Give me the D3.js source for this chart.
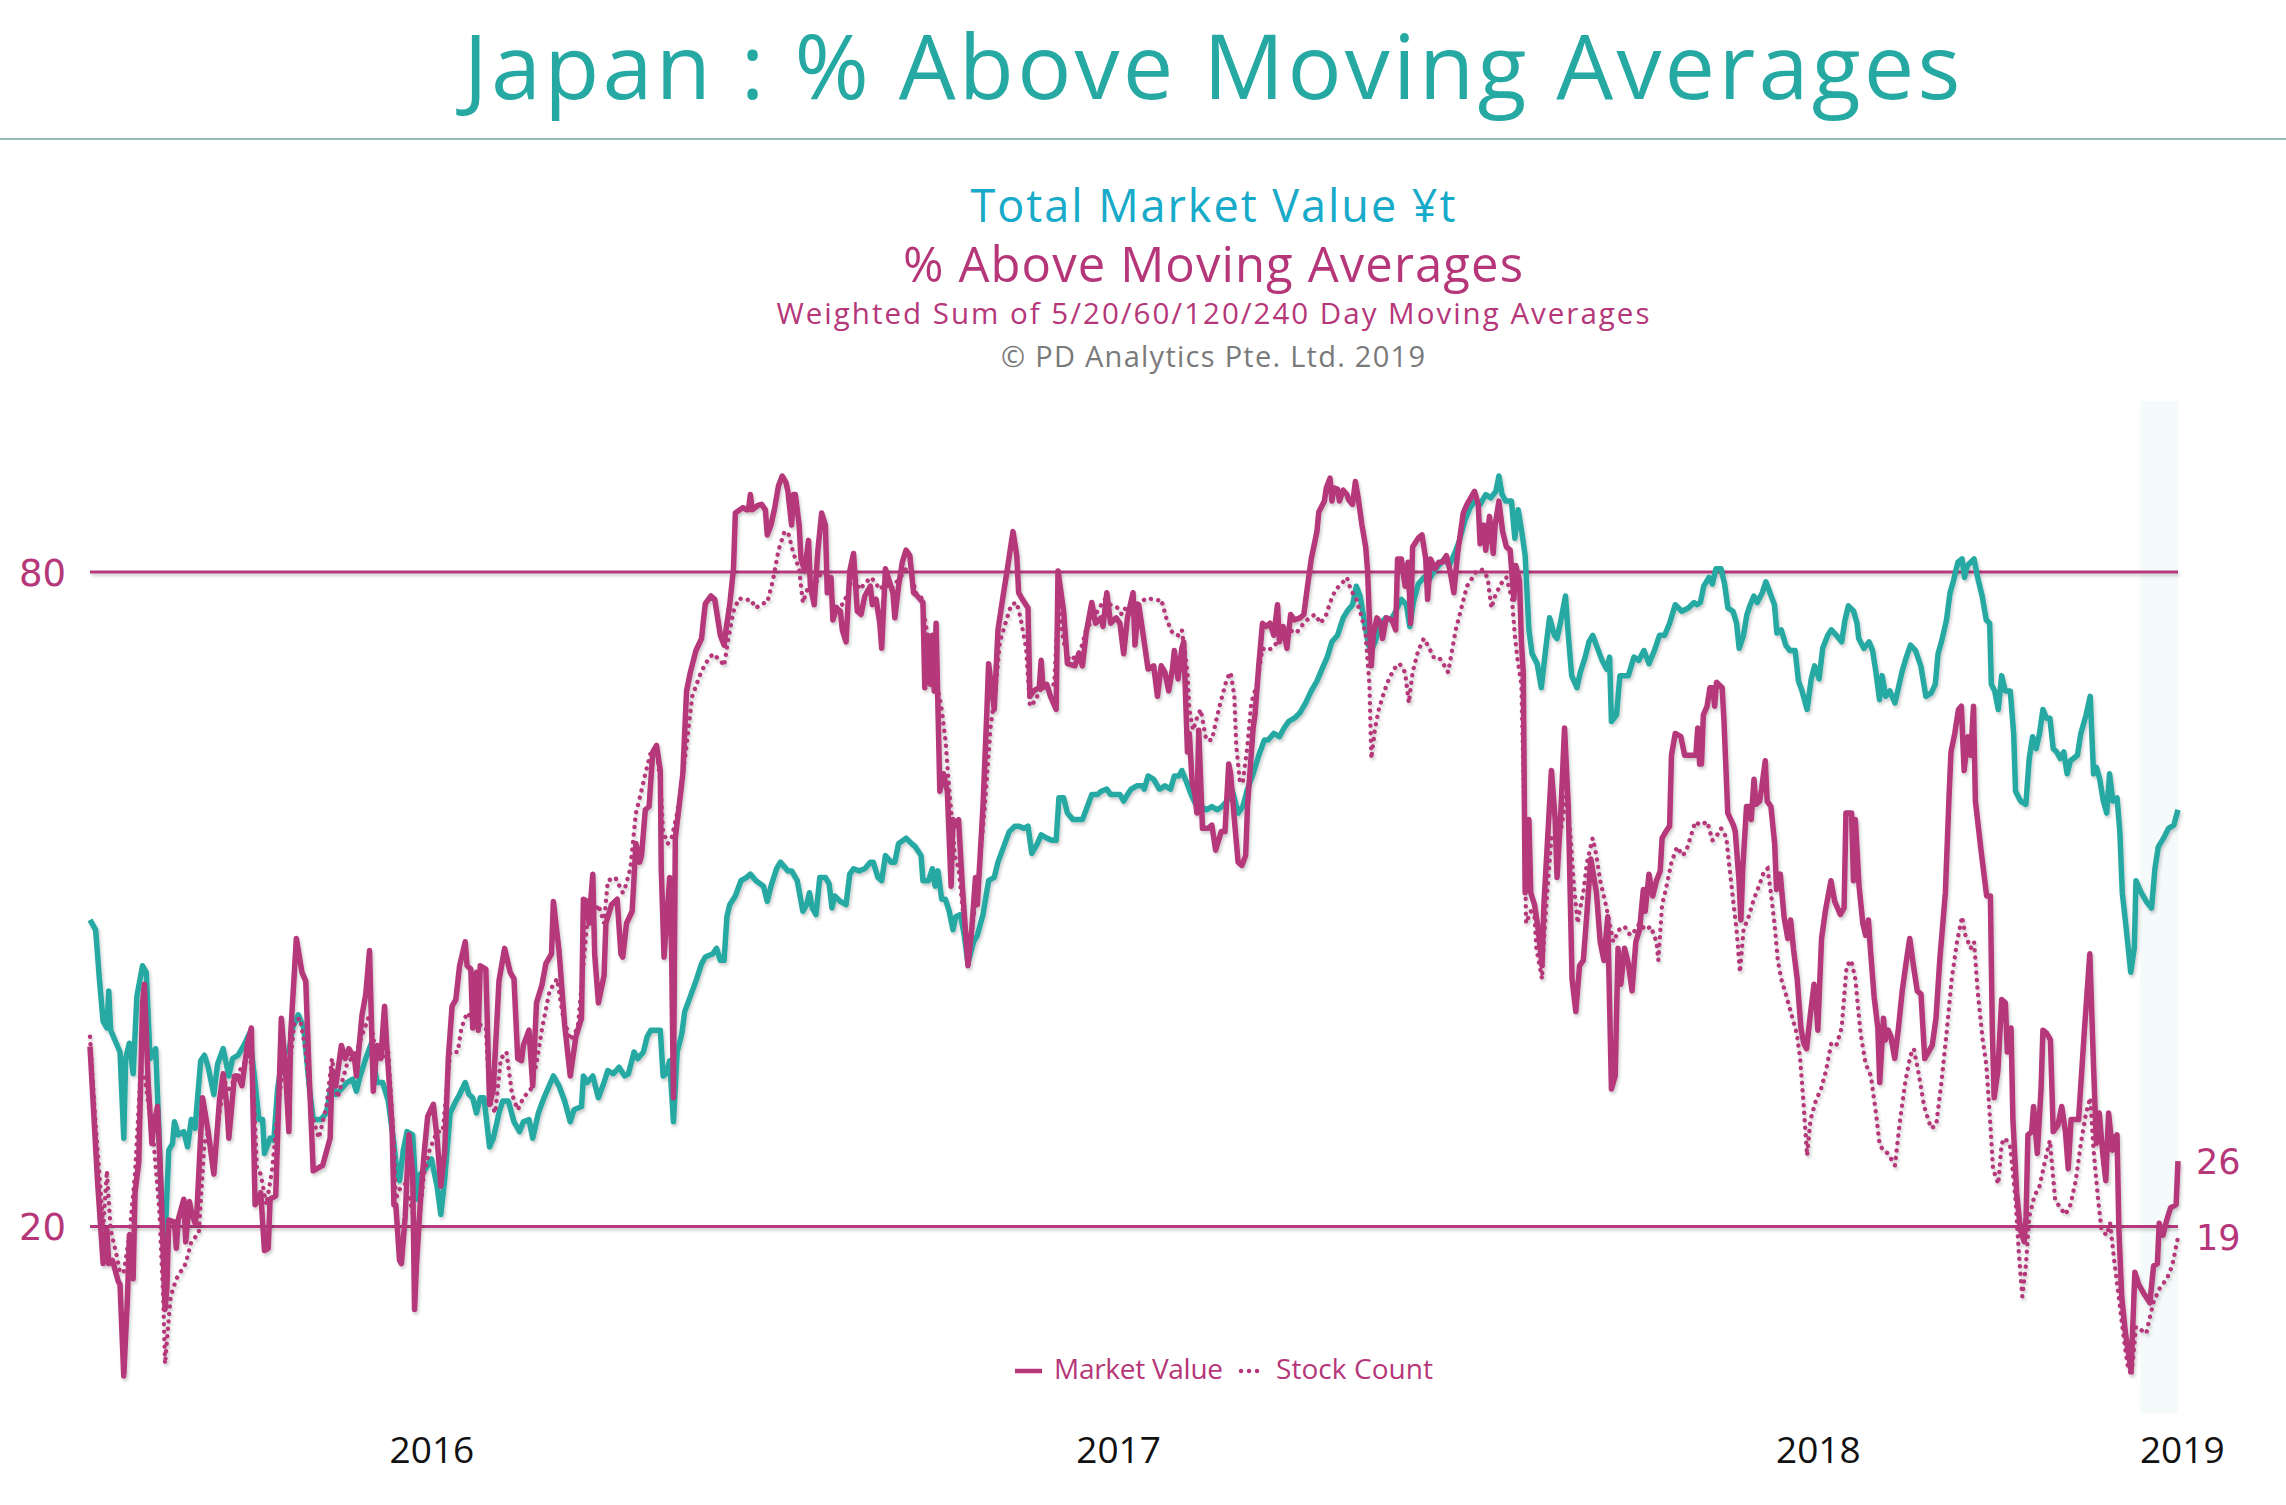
<!DOCTYPE html>
<html><head><meta charset="utf-8">
<script src="https://cdn.jsdelivr.net/npm/d3@7"></script>
<style>html,body{margin:0;padding:0;background:#fff;} svg{display:block;font-family:'Open Sans',sans-serif;}</style>
</head><body><svg id="chart" width="2286" height="1505"></svg>
<script>
// ---------- DATA (day offset from 2016-01-04, value) ----------
const startDate = "2016-01-04";
const endDay = 1113;
const shadeFrom = "2019-01-01";

const marketValue = [
[0,36.5],[4,24.2],[7,16.6],[9,19.7],[10,16.6],[12,16.9],[15,15],[16,14.7],[18,6.3],[20,13.6],[21,19.2],[23,15.2],[24,23.1],[26,25.9],[28,40.5],[29,42.2],[31,33.2],[33,27.6],[34,29.3],[36,31],[38,23.1],[40,12.4],[41,14.4],[42,20.6],[45,20.4],[46,18],[47,20.6],[50,22.5],[51,18.6],[53,22.3],[54,21.4],[56,20.3],[57,21.4],[60,31.8],[63,28.7],[66,24.8],[69,31.5],[71,34],[73,31],[74,28.1],[77,33.8],[79,33.8],[81,32.9],[84,36.8],[86,38.2],[88,22],[90,22.5],[91,23.1],[93,17.8],[95,18],[96,22.5],[99,22.8],[102,39.1],[104,34.9],[106,28.7],[107,37.7],[110,46.4],[113,43.3],[115,42.5],[117,33.2],[119,25.1],[124,25.6],[128,28.1],[129,34.3],[131,32.9],[134,36.6],[136,35.4],[138,36.3],[141,35.4],[142,33.8],[145,39.4],[147,41.3],[149,45.3],[151,32.4],[153,36.6],[155,35.4],[157,40.2],[158,37.1],[161,29.3],[162,22],[163,22],[165,16.9],[166,16.6],[168,20.9],[170,28.4],[172,24.8],[173,12.4],[174,16.4],[176,22],[178,26.5],[180,30.1],[183,31.2],[185,28.1],[187,23.7],[189,26.7],[191,35.4],[193,40.2],[195,40.8],[197,43.9],[200,46.1],[201,43.9],[203,43.6],[204,38.2],[206,43.3],[207,38],[208,43.9],[211,43.6],[213,31.2],[215,32.6],[218,42.5],[221,45.5],[224,43.3],[226,42.7],[228,35.4],[230,35.2],[231,36.6],[234,38],[236,32.9],[238,40.5],[241,42.2],[243,44.1],[246,45],[247,49.8],[250,45.3],[253,38.5],[256,33.8],[259,37.4],[262,39.1],[263,50],[265,49.8],[266,47.8],[268,52.3],[269,45],[271,40.5],[274,43],[275,47.8],[278,49.5],[281,50],[283,45],
[284,44.7],[286,47.8],[289,48.9],[291,55.1],[293,53.4],[294,54],[296,58.2],[298,58.5],[300,63.5],[302,64.1],[304,61.8],[304.5,52.8],[306,44.7],[307,47.2],[309,52],[310,45.5],[311,31.8],[312,55.6],[314,58.5],[316,61.5],[318,69.1],[320,70.8],[323,72.8],[326,73.9],[327,75.6],[328,77.1],[331,77.8],[333,77.5],[336,74.2],[338,73.3],[339,74.7],[341,77],[343,80.3],[344,85.4],[348,85.9],[350,85.7],[351,85.7],[352,87.1],[353,85.7],[356,86.1],[358,86.2],[360,85.7],[361,83.4],[363,84.3],[365,85.9],[367,87.9],[369,88.8],[371,88.2],[372,87.4],[374,84.3],[375,87.1],[376,87.1],[378,84.3],[379,81.2],[381,80.1],[383,82.9],[384,78.7],[386,77],[388,82],[390,85.4],[392,84.3],[393,78.1],[395,79.5],[396,75.6],[398,76.7],[400,76.4],[401,74.7],[403,73.6],[405,80.1],[407,81.7],[409,76.4],[411,76.1],[413,77.8],[416,78.7],[417,77],[419,77.5],[421,75.3],[422,73],[424,80.3],[426,79.2],[428,78.1],[429,75.8],[431,78.7],[433,80.9],[435,82],[437,81.5],[439,78.1],[441,77.8],[444,77.2],[445,69.4],[446,74.2],[448,69.7],[449,74.2],[450,69.1],[451,75.3],[453,59.9],[455,61.5],[457,59.9],[459,51.2],[460,57.3],[461,56.7],[463,57.3],[465,51.2],[468,43.9],[470,47.2],[472,52],[473,49.5],[476,58.5],[478,66.9],[479,71.6],[482,67.4],[484,74.7],[486,77],[489,80.3],[492,83.7],[494,81.5],[495,78.1],[497,77.5],[500,76.7],[501,68.6],[503,69.1],[506,69.4],[507,71.9],[508,69.4],[510,69.7],[512,68.6],[515,67.4],[516,80.1],[519,76.4],[521,71.6],[525,71.4],[527,72.5],[529,71.4],[531,74.4],[534,77.2],[536,75.3],[539,75.8],[540,75],[542,78.1],[544,75.3],[547,75.8],[549,75.3],[551,72.5],[553,75.8],[556,78.1],[557,73.3],[559,77],[561,74.7],[564,71.1],[567,71.4],[569,68.6],
[571,71.4],[573,70.8],[575,69.1],[577,71.1],[578,72.8],[580,70.2],[582,73],[583,73.6],[585,63.5],[586,65.2],[587.5,60.7],[589,59.6],[590,57.9],[591,65.5],[593,56.5],[596,56.5],[598,56.8],[600,54.5],[603,56.2],[605,56.2],[607,62.4],[608,61.5],[610,57.3],[612,53.4],[614,53.1],[616,54],[617,58.5],[620,65.7],[621,66.9],[623,71.4],[625,75.3],[627,75],[629,75.3],[631,74.2],[633,77],[634,73.6],[636,75],[638,73],[640,76.1],[642,75.6],[645,75.8],[647,76.1],[649,78.7],[651,81.2],[654,83.7],[655,85.5],[658,86.5],[659,87.7],[661,88.6],[662,86.5],[663,87.7],[665,87.6],[666,86.5],[668,87.5],[670,87.1],[671,86.6],[673,86.2],[674.5,88.3],[676,86.8],[678,84.3],[680,82.3],[681,80.1],[683,71.4],[684,74.2],[686,75.8],[688,75.3],[689,73.9],[691,75.8],[694,75.6],[696,74.7],[697,81.2],[699,81.2],[701,78.7],[702.6,80.9],[704,75.3],[705,82.3],[708,83.1],[710,83.4],[712,81.2],[713,77.5],[714.5,81.2],[717,80.3],[719,80.9],[721,80.9],[723,81.5],[725,80.1],[727,78.1],[729,81.7],[732,85.4],[734,86.2],[736,86.8],[738,87.4],[740,86.2],[741,82.6],[743,84.3],[744,82],[746,85.1],[748,81.7],[749,84.3],[751,86.5],[753,83.7],[755,82.3],[757,82],[759,77.5],[760,80.6],[762,79.2],[763,73.6],[764,70.8],[765,50.6],[767,57.3],[768,50.6],[770,49.5],[772,47.2],[774,43.9],[775,49.5],[777,55.6],[779,61.8],[781,57.3],[782,52],[784,57.9],[786,65.7],[788,58.5],[790,42.7],[792,39.7],[794,43.9],[796,44.4],[798,48.9],[800,53.7],[803,50.6],[805,46.1],[807,44.4],[809,48.4],[811,32.6],[813,33.8],[814.5,45.5],[816,42.2],[818,45.5],[820,44.1],[822,41.6],[824,46.1],[826,47.2],[828,50.9],[829,48.9],[831,52.3],[833,50.3],[835,51.7],[837,52.6],[838,55.6],[840,56.2],[842,56.7],[843,63.2],[845,65.2],[848,64.9],[850,63.2],
[853,63.2],[856,63.2],[857,65.7],[858,62.4],[859,62.4],[860,66.9],[862,67.7],[863.5,69.4],[865,69.4],[866,67.7],[867,69.9],[870,69.4],[871,66.3],[873,57.9],[876,56.8],[877,56.2],[879,51.7],[880,48.1],[881,52.8],[883,58.5],[884.5,58.5],[885.5,57.3],[887,61],[888,58.7],[890,59],[891,60.1],[893,62.7],[894,59],[896,58.5],[898,55.1],[899,50.9],[901,52.3],[903,48.4],[905,46.4],[906.5,48.1],[908,45.5],[910,42.7],[912,38.2],[913.5,36.8],[915,36.3],[917,39.4],[919,42.2],[920,40.8],[921,38],[923,46.4],[925,48.9],[928,51.7],[930,49.8],[933,48.6],[935,49.2],[936,57.9],[939,57.9],[940,51.7],[941,57.3],[943,51.2],[945,47.8],[946.5,46.7],[948,48.1],[949,45.5],[951,41.1],[953,38.2],[954,33.2],[956,39.1],[957,37.1],[958.5,38],[960,37.4],[962,35.4],[964,38.2],[966,41.6],[968,44.1],[970,46.4],[972,43.9],[974,41.6],[976,41.3],[978,35.4],[980,36],[982,36.6],[984,39.1],[986,44.4],[989,50.6],[991,59.6],[992,63.5],[994,65.2],[996,67.4],[997.5,67.7],[999,61.8],[1001,64.9],[1002.5,63.2],[1004,67.7],[1005,59],[1008,54.5],[1011,50.3],[1013,50.3],[1014,38.2],[1015,31.8],[1017,34.3],[1019,40.8],[1021,40.5],[1022,36],[1024,38.2],[1025,29.8],[1027,23.1],[1029,19.7],[1031,18.6],[1032,20.9],[1033,28.4],[1035,28.7],[1036,31],[1038,26.7],[1040,32.6],[1041,38],[1043,37.7],[1045,37.1],[1046.5,28.7],[1049,29.3],[1051,31],[1053,28.7],[1054.5,25.3],[1056,29.8],[1058.5,29.8],[1060,29.8],[1063,37.7],[1066,45],[1068,34.6],[1069.5,27.6],[1071,30.4],[1073,26.5],[1074.5,24.2],[1076,30.4],[1078,27],[1079,28.1],[1080.5,28.4],[1081.5,19.7],[1083,13.6],[1085,10.2],[1088,6.8],[1090,15.8],[1092,14.7],[1095,13.8],[1098,13],[1100,16.4],[1102,16.6],[1103,20.3],[1105,19.2],[1107,20.6],[1109,21.7],[1112,22],[1113,26]
];

const stockCount = [
[0,37.4],[3,29.3],[6,22.5],[7,19.7],[9,25.1],[11,19.7],[14,17.5],[16,15.8],[18,15.8],[21,19.2],[24,24.8],[27,34.3],[29,33.9],[34,27.6],[37,21.4],[39,13.6],[40,7.4],[43,13.6],[46,15.2],[51,16.6],[54,18.6],[58,19.4],[61,27.6],[63,28.7],[66,25.3],[69,30.4],[72,33.2],[74,32.6],[78,33.8],[82,34.9],[85,36],[87,33.2],[89,25.3],[91,24.8],[94,22],[97,25.1],[100,30.4],[103,34.9],[107,35.4],[109,38.8],[112,39.1],[115,36],[118,30.4],[122,28.1],[126,31],[129,35.4],[132,31.8],[137,34.9],[142,36],[146,38],[149,39.4],[152,36.3],[155,35.4],[159,36],[162,27.6],[163,22.5],[165,23.4],[168,23.9],[171,22],[174,19.7],[176,21.4],[178,24.8],[181,27],[185,28.7],[188,28.7],[192,36],[196,36],[198,38.2],[201,39.6],[205,38.8],[208,38.5],[211,38.2],[213,31.5],[216,30.4],[219,35.4],[222,36],[225,32.1],[228,30.7],[231,31.8],[235,32.6],[238,34.9],[241,38.2],[245,41.6],[249,42.7],[252,39.4],[256,37.1],[260,38.2],[263,43.9],[265,47.8],[268,48.4],[271,49.5],[274,47.8],[276,51.7],[280,52],[284,50.6],
[285,50.9],[288,52.8],[291,57.9],[293.5,59.6],[296,61.5],[299,63.5],[302,63.8],[304,60.7],[305.5,56.2],[308,55.1],[310,55.6],[313,57.9],[315.5,60.7],[318,64.1],[321,68.6],[325,70.5],[328,71.6],[332,72.5],[336,71.9],[338,71.4],[340,73.6],[343,76.4],[346,77.6],[349,77.4],[352,77.5],[355,76.7],[358,77.1],[361,77.2],[364,79.2],[367,82],[370,83.6],[372,83.7],[375,81.7],[378,80.3],[380,77.2],[383,78.7],[385,77.8],[388,79.5],[391,80.1],[394,79.2],[396,77],[399,76.7],[402,77.2],[405,78.7],[407,80.1],[410,78.4],[413,78.9],[416,79.5],[418,79.2],[421,78.4],[424,78.9],[427,78.4],[429,78.9],[432,79.5],[435,80.3],[438,80.1],[440,78.1],[443,77.8],[446,74.7],[449,72.5],[451,70.2],[454,67.4],[456,64.6],[458,60.1],[460,56.2],[461,54],[463,52.8],[465,49.5],[467,46.1],[469,45.5],[471,48.4],[474,52.8],[477,58.5],[480,65.7],[483,69.7],[485,73.6],[488,75.3],[491,77],[494,77.2],[496,75.8],[499,73],[501,67.7],[504,68.2],[506,69.1],[510,69.7],[514,69.7],[516,77],[519,73.6],[522,71.9],[525,72.2],[528,72.8],[531,74.7],[535,75.8],[538,76.7],[541,77.5],[544,77],[548,76.7],[550,76.1],[553,77],[556,77],[560,77.2],[563,77.6],[567,77.5],[570,77.4],
[571,77.5],[574,75.6],[577,74.4],[580,74.2],[582,74.7],[585,70.8],[586,67.4],[588,65.5],[590,66.6],[592,67.4],[595,64.6],[598,64.6],[601,66.9],[603,68.3],[606,70.2],[608,70.8],[610,68.6],[611,64.1],[613,60.7],[614.5,60.7],[617,64.1],[619,68],[622,69.7],[625,73],[627,72.8],[630,73],[633,73.6],[636,74.2],[639,74.7],[643,74.4],[647,75.3],[650,75.8],[653,76.1],[656,75.3],[659,76.1],[661,77.2],[664,78.4],[667,78.9],[670,79.5],[672,78.4],[675,77.5],[678,75.8],[680,74.2],[682,69.7],[683,62.9],[685,65.7],[687,67.4],[690,69.1],[692,70],[695,71.1],[698,71.6],[701,70.8],[703,68],[705,70.8],[708,72.8],[711,73.9],[714,73],[716,72.2],[719,72.2],[722,71.4],[724,70.8],[726,72.8],[728,74.7],[731,76.7],[734,78.7],[737,79.5],[739,80.1],[742,80.2],[745,79.5],[747,76.7],[749,77.8],[752,78.9],[755,79.5],[758,77.5],[759.5,74.2],[761,71.9],[763,69.7],[764.5,58.5],[765.5,47.8],[768,48.9],[770,48.4],[771,45.5],[774,42.7],[775,46.1],[777,51.2],[779,55.6],[781,56.2],[782,55.1],[784,56.2],[787,59.6],[789,56.2],[791,51.2],[793,47.8],[794,48.9],[796,50.6],[798,53.4],[801,55.6],[803,54],[805,51.7],[808,49.5],[810,47.8],[812,46.1],[815,47.2],[818,47.5],[821,46.7],[824,47.2],[826,47.8],[829,47.2],[832,47.5],[835,46.1],[836,44.4],[838,49.5],[840,50.9],[843,53.4],[846,54.8],[849,54],[851,54.5],
[855.7,57.1],[858.4,56.8],[862.1,57.1],[864.8,55.4],[866.7,55.7],[869.4,56.5],[872.2,55.7],[874,52.8],[875.8,50],[877.7,47.2],[879.5,43.3],[881.4,47.2],[884.1,48.4],[886.9,50],[889.6,51.2],[892.4,52.6],[894.2,52.8],[896,50.6],[897.9,47.8],[899.7,44.4],[901.5,42.7],[904.3,41.1],[907,39.4],[909.8,37.7],[911.6,35.4],[913.5,31],[915.3,26.5],[917.1,29.8],[919.9,31.5],[922.7,32.6],[925.4,34.3],[928.2,36.8],[930.9,36.6],[933.7,38.2],[936.4,43.9],[938.8,44.4],[941,42.7],[943.8,37.7],[946.5,34.9],[949.3,33.8],[952,30.4],[953.9,27.6],[955.7,27],[958.4,26.7],[962.1,25.6],[964.9,29.8],[967.6,33.2],[970.4,35.7],[972.2,36.3],[975,33.8],[977.7,31],[981.4,29],[984.1,29.3],[986.9,33.2],[989.6,37.7],[992.4,42.7],[995.2,46.1],[997.9,48.4],[999.7,46.7],[1002.5,45.5],[1004.3,46.1],[1006.2,41.6],[1008.9,37.1],[1010.8,34.9],[1012.6,30.4],[1014.4,25.3],[1017.2,23.9],[1019,27.6],[1020.9,28.1],[1023.6,27.3],[1026.4,22.5],[1028.2,17.5],[1030,13.6],[1031.9,16.4],[1033.7,20.9],[1036.5,22.8],[1039.2,23.7],[1042,25.9],[1044.7,27.9],[1047.5,22.5],[1050.2,21.7],[1053,21.1],[1055.7,22],[1058.5,24.2],[1061.2,27.6],[1064,30.4],[1066.2,31.8],[1068,27],[1070.4,22.5],[1072.2,19.7],[1075,19.2],[1076.8,20.3],[1079,16.9],[1081.4,13.6],[1083.8,10.2],[1086,7.4],[1088.2,6.3],[1090.6,10.8],[1093.4,10.5],[1096.1,10.2],[1099.8,13],[1103.4,14.4],[1107.1,15.2],[1109.9,16.4],[1113,19]
];

const totalMarketValue = [
[0,48.1],[3,47.2],[5,42.7],[7,38.8],[9,38.2],[10,41.6],[11,38],[14,36.8],[16,36],[18,28.1],[19,35.4],[21,36.8],[23,34],[25,41.1],[28,43.9],[30,43.3],[32,35.4],[35,36.3],[37,27.6],[38,22],[40,18.9],[42,27],[44,27.6],[45,29.6],[47,28.4],[50,28.7],[52,27.3],[54,29.8],[56,29],[59,35.2],[61,35.7],[63,34.6],[66,32.1],[68,34.9],[71,36.3],[74,33.8],[76,35.4],[79,35.7],[82,36.6],[85,37.7],[88,33.2],[90,29.8],[92,29.8],[93,26.7],[96,28.1],[98,27.9],[100,32.6],[103,36],[106,36],[108,38.2],[111,39.4],[114,38.2],[117,32.6],[119,29.8],[123,29.8],[126,30.4],[129,33.2],[131,32.1],[134,32.6],[137,33.2],[140,33.5],[142,32.4],[144,33.8],[147,35.4],[150,36.8],[152,34.3],[153,33.2],[156,33.2],[159,31.5],[162,27.6],[163,25.9],[165,24.2],[167,27],[169,28.7],[172,28.4],[174,22.5],[176,24.8],[179,25.3],[182,26.2],[185,23.7],[187,21.1],[189,24.2],[192,30.4],[195,31.5],[197,32.1],[200,33.2],[202,32.1],[204,31.8],[206,30.4],[208,31.8],[210,31.8],[213,27.3],[215,28.1],[218,30.4],[220,31.5],[223,31.5],[226,29.6],[229,28.7],[231,29.6],[234,29.8],[236,28.1],[239,30.4],[242,31.8],[244,32.6],[247,33.8],[250,32.9],[253,31.5],[256,29.6],[258,30.7],[262,31],[263,33.8],[265,33.2],[268,33.8],[271,31.8],[274,33.2],[276,34.3],[279,34],[282,34.6],[285,33.8],
[287,34],[290,36],[292,35.4],[295,36],[297,37.4],[299,38],[304,38],[305.5,33.8],[307,34],[309,35.2],[311,29.6],[313,36],[315.5,37.7],[317,39.7],[320,41.1],[323,42.5],[326,44.1],[328,44.7],[332,45],[334,45.5],[336,44.4],[338,44.4],[339.5,48.4],[341,49.5],[344,50.3],[347,51.7],[350,52],[352,52.3],[355,51.7],[359,51.2],[361,49.8],[363,51.2],[366,52.8],[368,53.4],[372,52.6],[374,52.6],[377,51.7],[380,48.9],[382,49.5],[383.5,50.6],[385,49.2],[387,48.6],[389,52],[392,52],[394,51.4],[395.5,49.2],[397,50.3],[400,49.8],[403,49.5],[405,52.3],[407,52.8],[410,52.6],[413,52.8],[416,53.4],[417.5,53.4],[420,52],[422,51.7],[424,54],[427,53.4],[429,53.4],[431,55.1],[435,55.6],[438,55.1],[440,54.8],[443,54],[444,51.7],[447,51.7],[449,52.8],[450.5,51.2],[452,52.6],[454,50],[456,50],[458,48.9],[460,47.2],[461.5,48.4],[464,48.6],[466,46.7],[468,44.1],[471,46.1],[473,46.7],[476,48.6],[479,51.7],[482,52],[484,53.4],[487,54.8],[490,56.2],[493,56.7],[495,56.7],[498,56.5],[500,56.7],[502,54.2],[505,55.1],[507,55.9],[510,55.6],[513,55.4],[515,55.4],[516.5,59.3],[519,59.3],[521,57.9],[524,57.3],[527,57.3],[529,57.3],[531,58.2],[534,59.6],[537,59.6],[539,59.9],[542,60.1],[544,59.6],[547,59.6],[549,59.6],[551,59],[553,59.6],[555,60.1],[558,60.4],[561,60.4],[562,60.1],[564,61.3],[567,61],[570,60.1],
[570.5,60.1],[573,60.4],[576,60.1],[578,61.3],[580.5,61.3],[582,61.8],[584.6,60.7],[587,59.6],[590,58.5],[592.5,58.5],[595,58.2],[598,58.5],[600.7,58.2],[603.5,58.5],[606,59],[609,59.9],[612,57.9],[614.5,58.5],[617,60.1],[620,61.5],[623,63.2],[626,64.6],[628,64.6],[631,65.2],[634,64.9],[636.5,65.7],[639,66.3],[642,66.6],[645,67.1],[648,68],[651,69.1],[654,70],[656.7,71.1],[659.5,72.2],[662,73.6],[665,74.2],[668,75.8],[670.5,76.5],[673,77],[675,78.7],[677,77.8],[679,75.8],[681.5,73.3],[683,72.8],[685,73.6],[688,75.3],[690.7,75.8],[693.4,75.6],[696,76.4],[699,77.5],[701.7,77],[703.5,75],[705.4,77.2],[708,78.9],[711,79.5],[713.6,79.2],[716.4,80.1],[719,80.6],[722,81.2],[724.6,80.6],[727.4,81.7],[730,82.9],[733,84.8],[735.6,85.9],[738.4,86.5],[741,86.2],[744,87.1],[746.7,86.8],[749.4,87.4],[751,88.8],[752.7,87.1],[754.6,86.5],[757.7,86.5],[759.5,83.1],[761.3,85.7],[763.2,83.7],[765,81.5],[767,74.7],[768.7,72.5],[771.4,71.6],[773.6,69.4],[776,73],[778,75.8],[780.6,74.2],[782,73.9],[784.3,75.8],[786.5,77.8],[788,74.2],[789.8,70.5],[792.6,69.4],[794.4,70.8],[797,72.2],[799,73.6],[801,74.2],[803.6,73],[806,71.9],[808.5,71.1],[810,72.2],[811,66.3],[813.7,66.9],[815.5,70.5],[818,70.5],[820,70.5],[823,72.2],[825.6,71.9],[828.3,72.8],[831,71.6],[833.9,72.8],[836.6,74.2],[839.4,74.2],[842,75.3],[845,77],[848.5,76.4],[852,76.7],[855,77.2],
[856.6,77],[858.4,77.2],[860.2,78.7],[863,79.5],[864.8,78.9],[866.7,80.3],[869.4,80.3],[871.3,78.9],[873.1,76.7],[875.8,76.4],[877.7,75.3],[879.1,73],[881.4,74.2],[883.2,76.1],[885,77],[886.9,77.8],[888.7,77.2],[891.4,78.1],[893.3,79.1],[895.5,78.1],[897.9,77],[899.2,74.4],[901.5,74.7],[903.9,73.3],[906.1,72.8],[908.9,72.8],[910.7,70],[912.6,69.1],[915.3,67.4],[917.5,70.2],[919.3,71.4],[921.7,70.2],[923.6,73],[926.3,74.2],[928.2,74.7],[930.9,74.2],[933.7,73.6],[935.5,75.6],[937.3,76.9],[940.1,76.4],[941.9,75.3],[942.8,73.9],[945.6,73],[948.3,73.6],[950.2,72.8],[952,70.8],[953.9,68.3],[955.3,70.5],[957.2,68.6],[959.4,69.1],[962.1,68],[964,69.4],[965.8,70.8],[968.2,72.2],[970.4,73.3],[973.1,72.8],[975.9,71.4],[978.6,68.6],[981.4,68.9],[983.6,69.7],[985.1,72.5],[986.9,73.6],[989.6,75.6],[991.5,78.1],[993.3,79.2],[995.7,80.9],[997.9,81.2],[999.2,79.5],[1000.7,80.6],[1002.5,80.9],[1004.3,81.2],[1006.2,79.5],[1008.6,77.8],[1010.8,75.6],[1012.6,75.3],[1013.5,69.7],[1015.3,69.1],[1017.2,67.4],[1019,70.5],[1020.9,69.1],[1023.6,69.1],[1025.4,65.2],[1026.4,59.9],[1029.1,59],[1031.9,58.7],[1033.7,62.9],[1035.5,64.9],[1037.4,63.8],[1039.2,65.2],[1041,67.4],[1042.9,66.6],[1044.7,66.6],[1046.5,63.8],[1048.4,63.5],[1050.2,62.9],[1052.1,63.5],[1053.9,61.5],[1055.7,62.7],[1059.4,63.2],[1061.2,65.2],[1064,66.9],[1066.2,68.6],[1068,61.5],[1069.5,62.1],[1071.3,61],[1073.2,59],[1075,57.9],[1076.5,61.5],[1078.3,59],[1080.5,59.3],[1082,56.2],[1083.3,50.6],[1085.1,47.8],[1087.8,43.3],[1089.7,45.5],[1090.6,51.7],[1093.4,50.6],[1096.1,49.8],[1098.9,49.2],[1100.7,52.8],[1102.5,54.8],[1105.3,55.6],[1108,56.5],[1110.8,56.8],[1113,58.2]
];

const refLevels = [20, 80];
const tickDates = ["2016-07-04", "2017-07-05", "2018-07-13", "2019-01-23"];
const tickLabels = ["2016", "2017", "2018", "2019"];
const titleText = "Japan : % Above Moving Averages";
const subtitles = ["Total Market Value \u00a5t", "% Above Moving Averages", "Weighted Sum of 5/20/60/120/240 Day Moving Averages", "\u00a9 PD Analytics Pte. Ltd. 2019"];
const legendLabels = ["Market Value", "Stock Count"];

// ---------- STYLE ----------
const TEAL = "#26a9a2", MAG = "#b5377a", CYAN = "#17aac9", GRAY = "#7a7a7a";

const svg = d3.select("#chart");
const defs = svg.append("defs");
const f = defs.append("filter").attr("id","shadow").attr("x","-5%").attr("y","-5%").attr("width","110%").attr("height","110%");
f.append("feDropShadow").attr("dx",1.5).attr("dy",2.5).attr("stdDeviation",1.6).attr("flood-color","#000").attr("flood-opacity",0.2);

const t0 = Date.parse(startDate + "T00:00:00Z");
const toDate = d => new Date(t0 + d * 864e5);
const x = d3.scaleUtc().domain([toDate(0), toDate(endDay)]).range([90, 2178]);
const y = d3.scaleLinear().domain([20, 80]).range([1226.5, 572]);
const plotTop = 401, plotBottom = 1414;

// Titles
svg.append("text").attr("x",1212).attr("y",99).attr("text-anchor","middle")
  .attr("font-size",90).attr("fill",TEAL).attr("textLength",1497).attr("lengthAdjust","spacing").text(titleText);
svg.append("line").attr("x1",0).attr("x2",2286).attr("y1",139).attr("y2",139).attr("stroke","#6fa6a2").attr("stroke-width",1.5);

const subSpec = [
  {y:222, size:45, color:CYAN, w:485},
  {y:282, size:49, color:MAG, w:620},
  {y:324, size:29.5, color:MAG, w:873},
  {y:367, size:29, color:GRAY, w:424}
];
subtitles.forEach((s,i)=>{
  const sp = subSpec[i];
  svg.append("text").attr("x",1213).attr("y",sp.y).attr("text-anchor","middle")
    .attr("font-size",sp.size).attr("fill",sp.color).attr("textLength",sp.w).attr("lengthAdjust","spacing").text(s);
});

// shaded 2019 region
const xs = x(new Date(shadeFrom+"T00:00:00Z"));
svg.append("rect").attr("x", xs).attr("y", plotTop)
  .attr("width", x(toDate(endDay)) - xs).attr("height", plotBottom - plotTop)
  .attr("fill","#f5fafa");

// reference lines
svg.append("g").attr("filter","url(#shadow)").selectAll("line").data(refLevels).join("line")
  .attr("x1", x(toDate(0))).attr("x2", x(toDate(endDay)))
  .attr("y1", d=>y(d)).attr("y2", d=>y(d)).attr("stroke", MAG).attr("stroke-width", 3);

// y axis labels
const yAxis = d3.axisLeft(y).tickValues(refLevels).tickSize(0).tickPadding(0).tickFormat(d3.format("d"));
const gy = svg.append("g").attr("transform","translate(66,0)").call(yAxis);
gy.select(".domain").remove();
gy.selectAll("text").attr("font-family","'DejaVu Sans',sans-serif").attr("font-size",37).attr("fill",MAG).attr("dy","0.36em");

// x axis labels
const xAxis = d3.axisBottom(x).tickValues(tickDates.map(s=>new Date(s+"T00:00:00Z"))).tickSize(0).tickPadding(0)
  .tickFormat((d,i)=>tickLabels[i]);
const gx = svg.append("g").attr("transform","translate(0,1463)").call(xAxis);
gx.select(".domain").remove();
gx.selectAll("text").attr("font-family","'Open Sans',sans-serif").attr("font-size",37).attr("fill","#111").attr("dy",0).attr("y",0);

// lines
const line = d3.line().x(d=>x(toDate(d[0]))).y(d=>y(d[1]));
const gl = svg.append("g").attr("filter","url(#shadow)");
gl.append("path").datum(totalMarketValue).attr("d",line).attr("fill","none").attr("stroke",TEAL).attr("stroke-width",5.5).attr("stroke-linejoin","round");
gl.append("path").datum(stockCount).attr("d",line).attr("fill","none").attr("stroke",MAG).attr("stroke-width",4.4)
  .attr("stroke-dasharray","0.1 7.4").attr("stroke-linecap","round");
gl.append("path").datum(marketValue).attr("d",line).attr("fill","none").attr("stroke",MAG).attr("stroke-width",5.5).attr("stroke-linejoin","round");

// end labels
const lastMV = marketValue[marketValue.length-1], lastSC = stockCount[stockCount.length-1];
[lastMV, lastSC].forEach(p=>{
  svg.append("text").attr("x",2196).attr("y",y(p[1])).attr("dy","0.36em")
    .attr("font-family","'DejaVu Sans',sans-serif").attr("font-size",35).attr("fill",MAG).text(Math.round(p[1]));
});

// legend
const lg = svg.append("g");
lg.append("line").attr("x1",1015).attr("x2",1042).attr("y1",1371).attr("y2",1371).attr("stroke",MAG).attr("stroke-width",4.5);
lg.append("text").attr("x",1054).attr("y",1379).attr("font-size",28).attr("fill",MAG).attr("textLength",169).attr("lengthAdjust","spacing").text(legendLabels[0]);
lg.append("line").attr("x1",1241).attr("x2",1265).attr("y1",1371).attr("y2",1371).attr("stroke",MAG).attr("stroke-width",4.4)
  .attr("stroke-dasharray","0.1 7.9").attr("stroke-linecap","round");
lg.append("text").attr("x",1276).attr("y",1379).attr("font-size",28).attr("fill",MAG).attr("textLength",157).attr("lengthAdjust","spacing").text(legendLabels[1]);
</script></body></html>
